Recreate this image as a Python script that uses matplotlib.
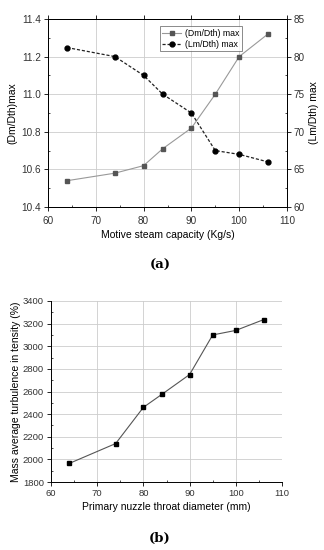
import matplotlib
matplotlib.use("Agg")
import matplotlib.pyplot as plt
from matplotlib.ticker import MultipleLocator

x_a = [64, 74, 80, 84, 90, 95, 100, 106]
dm_dth = [10.54, 10.58, 10.62, 10.71, 10.82, 11.0, 11.2, 11.32]
lm_dth = [81.2, 80.0, 77.5, 75.0, 72.5, 67.5, 67.0, 66.0]

x_b = [64, 74, 80, 84, 90, 95, 100, 106]
turb = [1965, 2140, 2460, 2575, 2750, 3100, 3140, 3235]

plt.rcParams['font.family'] = ['Liberation Sans', 'DejaVu Sans']
fig = plt.figure(figsize=(3.24, 5.5), dpi=100)
W, H = 324, 550

def style(ax, ls=7.2):
    ax.tick_params(direction='out', labelsize=ls, length=3, width=0.6, pad=2, labelcolor='#333333')
    ax.tick_params(which='minor', direction='in', length=1.5, width=0.5)
    for s in ax.spines.values():
        s.set_linewidth(0.7)

# (a)
ax1 = fig.add_axes([48/W, 1-207/H, (287-48)/W, (207-19)/H])
ax1.grid(True, color='#cccccc', linewidth=0.6)
l1, = ax1.plot(x_a, dm_dth, color='#999999', linewidth=0.8, marker='s', markersize=3.5,
               markerfacecolor='#555555', markeredgecolor='#555555', label='(Dm/Dth) max')
ax1.set_xlim(60, 110)
ax1.set_ylim(10.4, 11.4)
ax1.xaxis.set_major_locator(MultipleLocator(10))
ax1.xaxis.set_minor_locator(MultipleLocator(5))
ax1.yaxis.set_major_locator(MultipleLocator(0.2))
ax1.yaxis.set_minor_locator(MultipleLocator(0.1))
ax1.set_yticks(ax1.get_yticks())
ax1.set_yticklabels([f'{v:.1f}' for v in ax1.get_yticks()])
ax1.set_ylim(10.4, 11.4)
ax1.set_xlabel('Motive steam capacity (Kg/s)', fontsize=7.5, labelpad=3)
ax1.set_ylabel('(Dm/Dth)max', fontsize=7.5, labelpad=3)
style(ax1)
ax1.tick_params(axis='x', pad=3.5)
ax1.tick_params(top=True)
ax2 = ax1.twinx()
l2, = ax2.plot(x_a, lm_dth, color='#222222', linewidth=0.9, linestyle=(0, (2.5, 1.5)), marker='o',
               markersize=3.5, markerfacecolor='black', markeredgecolor='black', label='(Lm/Dth) max')
ax2.set_ylim(60, 85)
ax2.yaxis.set_major_locator(MultipleLocator(5))
ax2.yaxis.set_minor_locator(MultipleLocator(2.5))
ax2.set_ylabel('(Lm/Dth) max', fontsize=7.5, labelpad=3)
style(ax2)
leg = ax1.legend(handles=[l1, l2], loc='upper right', bbox_to_anchor=(0.83, 0.985), fontsize=6.3,
                 frameon=True, fancybox=False, edgecolor='#555555', handlelength=2.2,
                 borderpad=0.3, labelspacing=0.2, handletextpad=0.4)
leg.get_frame().set_linewidth(0.6)

# (b)
ax3 = fig.add_axes([51/W, 1-482/H, (282-51)/W, (482-301)/H])
ax3.grid(True, color='#cccccc', linewidth=0.6)
ax3.plot(x_b, turb, color='#555555', linewidth=0.8, marker='s', markersize=3.5,
         markerfacecolor='black', markeredgecolor='black')
ax3.set_xlim(60, 110)
ax3.set_ylim(1800, 3400)
ax3.xaxis.set_major_locator(MultipleLocator(10))
ax3.xaxis.set_minor_locator(MultipleLocator(5))
ax3.yaxis.set_major_locator(MultipleLocator(200))
ax3.yaxis.set_minor_locator(MultipleLocator(100))
ax3.set_xlabel('Primary nuzzle throat diameter (mm)', fontsize=7.5, labelpad=3)
ax3.set_ylabel('Mass average turbulence in tensity (%)', fontsize=7.5, labelpad=1)
style(ax3, ls=6.8)
ax3.spines['top'].set_visible(False)
ax3.spines['right'].set_visible(False)

fig.text(160/W, 1-265/H, '(a)', fontsize=9.5, fontweight='bold', family='DejaVu Serif', ha='center', va='center')
fig.text(160/W, 1-538/H, '(b)', fontsize=9.5, fontweight='bold', family='DejaVu Serif', ha='center', va='center')

fig.savefig('out.png', dpi=100, facecolor='white')
